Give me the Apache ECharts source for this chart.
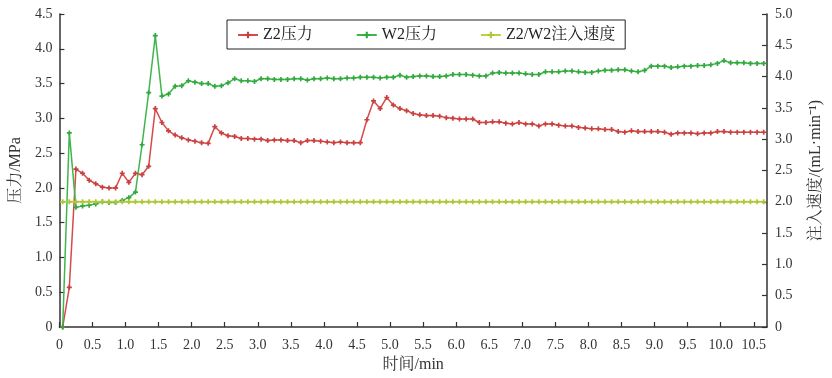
<!DOCTYPE html>
<html>
<head>
<meta charset="utf-8">
<script src="https://cdn.jsdelivr.net/npm/echarts@6/dist/echarts.min.js"></script>
<style>html,body{margin:0;padding:0;background:#fff}#c{width:832px;height:378px}</style>
</head>
<body>
<div id="c"></div>
<script>
// sampling grid (min): first sample and step
const startTime = 0.05;
const timeStep = 0.1;

const seriesNames = ['Z2压力', 'W2压力', 'Z2/W2注入速度'];

// Z2 pressure (MPa)
const z2Pressure = [
  0, 0.57, 2.27, 2.21, 2.11, 2.06, 2.01, 2.00, 2.00, 2.21,
  2.08, 2.21, 2.19, 2.31, 3.14, 2.94, 2.82, 2.76, 2.72, 2.69,
  2.67, 2.65, 2.64, 2.88, 2.79, 2.75, 2.74, 2.71, 2.71, 2.70,
  2.70, 2.68, 2.69, 2.69, 2.68, 2.68, 2.65, 2.68, 2.68, 2.67,
  2.66, 2.65, 2.66, 2.65, 2.65, 2.65, 2.98, 3.25, 3.14, 3.30,
  3.19, 3.14, 3.11, 3.07, 3.05, 3.04, 3.04, 3.03, 3.01, 3.00,
  2.99, 2.99, 2.99, 2.94, 2.94, 2.95, 2.95, 2.93, 2.92, 2.94,
  2.92, 2.92, 2.89, 2.92, 2.92, 2.90, 2.89, 2.89, 2.87, 2.86,
  2.85, 2.85, 2.84, 2.84, 2.81, 2.80, 2.82, 2.81, 2.81, 2.81,
  2.81, 2.80, 2.77, 2.79, 2.79, 2.79, 2.78, 2.79, 2.79, 2.81,
  2.81, 2.80, 2.80, 2.80, 2.80, 2.80, 2.80
];

// W2 pressure (MPa)
const w2Pressure = [
  0, 2.79, 1.72, 1.74, 1.75, 1.77, 1.80, 1.79, 1.79, 1.82,
  1.86, 1.94, 2.62, 3.37, 4.19, 3.32, 3.35, 3.46, 3.47, 3.54,
  3.52, 3.50, 3.50, 3.46, 3.47, 3.51, 3.57, 3.54, 3.54, 3.53,
  3.57, 3.57, 3.56, 3.56, 3.56, 3.57, 3.57, 3.55, 3.57, 3.57,
  3.58, 3.57, 3.57, 3.58, 3.58, 3.59, 3.59, 3.59, 3.58, 3.59,
  3.59, 3.62, 3.59, 3.60, 3.61, 3.61, 3.60, 3.60, 3.61, 3.63,
  3.63, 3.63, 3.62, 3.61, 3.61, 3.65, 3.66, 3.65, 3.65, 3.65,
  3.64, 3.63, 3.63, 3.67, 3.67, 3.67, 3.68, 3.68, 3.67, 3.66,
  3.66, 3.68, 3.69, 3.69, 3.70, 3.70, 3.68, 3.67, 3.69, 3.75,
  3.75, 3.75, 3.73, 3.74, 3.75, 3.75, 3.76, 3.76, 3.77, 3.79,
  3.83, 3.80, 3.80, 3.80, 3.79, 3.79, 3.79
];

// Z2/W2 injection rate (mL/min)
const injectionRate = [
  2.0, 2.0, 2.0, 2.0, 2.0, 2.0, 2.0, 2.0, 2.0, 2.0,
  2.0, 2.0, 2.0, 2.0, 2.0, 2.0, 2.0, 2.0, 2.0, 2.0,
  2.0, 2.0, 2.0, 2.0, 2.0, 2.0, 2.0, 2.0, 2.0, 2.0,
  2.0, 2.0, 2.0, 2.0, 2.0, 2.0, 2.0, 2.0, 2.0, 2.0,
  2.0, 2.0, 2.0, 2.0, 2.0, 2.0, 2.0, 2.0, 2.0, 2.0,
  2.0, 2.0, 2.0, 2.0, 2.0, 2.0, 2.0, 2.0, 2.0, 2.0,
  2.0, 2.0, 2.0, 2.0, 2.0, 2.0, 2.0, 2.0, 2.0, 2.0,
  2.0, 2.0, 2.0, 2.0, 2.0, 2.0, 2.0, 2.0, 2.0, 2.0,
  2.0, 2.0, 2.0, 2.0, 2.0, 2.0, 2.0, 2.0, 2.0, 2.0,
  2.0, 2.0, 2.0, 2.0, 2.0, 2.0, 2.0, 2.0, 2.0, 2.0,
  2.0, 2.0, 2.0, 2.0, 2.0, 2.0, 2.0
];

const times = z2Pressure.map((_, i) => +(startTime + timeStep * i).toFixed(2));
const pair = arr => arr.map((v, i) => [times[i], v]);

const FONT = "'Liberation Serif', 'Times New Roman', 'Noto Serif CJK SC', 'Noto Sans CJK SC', serif";
const AX = '#333';
const plusSymbol = 'path://M1,0H2V1H3V2H2V3H1V2H0V1H1Z';

function fmtTick(v) {
  if (Math.abs(v) < 1e-9) return '0';
  if (Math.abs(v * 2 - Math.round(v * 2)) > 1e-6) return '';
  return v.toFixed(1);
}

const chart = echarts.init(document.getElementById('c'), null, { renderer: 'canvas' });
chart.setOption({
  animation: false,
  backgroundColor: '#fff',
  textStyle: { fontFamily: FONT },
  grid: { left: 57, right: 54, top: 14, bottom: 45, containLabel: false },
  legend: {
    left: 227, top: 20,
    padding: [7, 10, 6, 10],
    borderColor: '#222', borderWidth: 1,
    itemGap: 43, itemWidth: 20, itemHeight: 8,
    textStyle: { fontFamily: FONT, fontSize: 16, color: '#222' },
    data: seriesNames
  },
  xAxis: {
    type: 'value', min: 0, max: 10.7, interval: 0.5,
    name: '时间/min', nameLocation: 'middle', nameGap: 30,
    nameTextStyle: { fontFamily: FONT, fontSize: 16, color: '#333' },
    axisLine: { show: true, lineStyle: { color: AX, width: 1.5 } },
    axisTick: { show: true, inside: true, length: 5, lineStyle: { color: AX, width: 1.2 } },
    axisLabel: { formatter: fmtTick, fontFamily: FONT, fontSize: 14, color: '#333', margin: 11, showMaxLabel: false },
    splitLine: { show: false }
  },
  yAxis: [
    {
      type: 'value', min: 0, max: 4.5, interval: 0.5, position: 'left',
      name: '压力/MPa', nameLocation: 'middle', nameGap: 35, nameRotate: 90,
      nameTextStyle: { fontFamily: FONT, fontSize: 16, color: '#333' },
      axisLine: { show: true, lineStyle: { color: AX, width: 1.5 } },
      axisTick: { show: true, inside: true, length: 5, lineStyle: { color: AX, width: 1.2 } },
      axisLabel: { formatter: fmtTick, fontFamily: FONT, fontSize: 14, color: '#333', margin: 7 },
      splitLine: { show: false }
    },
    {
      type: 'value', min: 0, max: 5, interval: 0.5, position: 'right',
      name: '注入速度/(mL·min⁻¹)', nameLocation: 'middle', nameGap: 41, nameRotate: 90,
      nameTextStyle: { fontFamily: FONT, fontSize: 16, color: '#333' },
      axisLine: { show: true, lineStyle: { color: AX, width: 1.5 } },
      axisTick: { show: true, inside: true, length: 5, lineStyle: { color: AX, width: 1.2 } },
      axisLabel: { formatter: fmtTick, fontFamily: FONT, fontSize: 14, color: '#333', margin: 8 },
      splitLine: { show: false }
    }
  ],
  series: [
    {
      name: seriesNames[0], type: 'line', yAxisIndex: 0,
      data: pair(z2Pressure),
      symbol: plusSymbol, symbolSize: 5, showSymbol: true,
      lineStyle: { color: '#d64a4a', width: 1.5 },
      itemStyle: { color: '#c94040' }
    },
    {
      name: seriesNames[1], type: 'line', yAxisIndex: 0,
      data: pair(w2Pressure),
      symbol: plusSymbol, symbolSize: 5, showSymbol: true,
      lineStyle: { color: '#3fb64a', width: 1.5 },
      itemStyle: { color: '#33a83f' }
    },
    {
      name: seriesNames[2], type: 'line', yAxisIndex: 1,
      data: pair(injectionRate),
      symbol: plusSymbol, symbolSize: 5, showSymbol: true,
      lineStyle: { color: '#bccf45', width: 2 },
      itemStyle: { color: '#b0c53a' }
    }
  ]
});
</script>
</body>
</html>
